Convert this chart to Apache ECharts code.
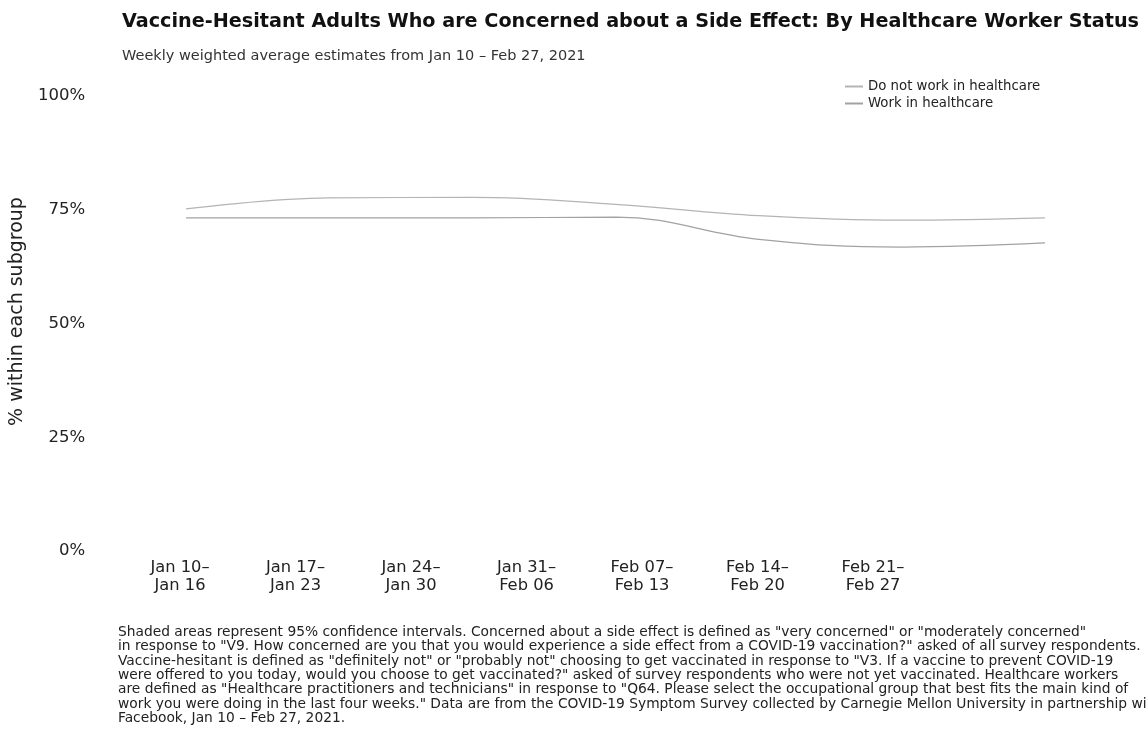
<!DOCTYPE html>
<html>
<head>
<meta charset="utf-8">
<script src="https://cdn.jsdelivr.net/npm/echarts@6/dist/echarts.min.js"></script>
<style>html,body{margin:0;padding:0;background:#fff}#c{width:1146px;height:743px}</style>
</head>
<body>
<div id="c"></div>
<script>
const weekLabels = ["Jan 10–\nJan 16","Jan 17–\nJan 23","Jan 24–\nJan 30","Jan 31–\nFeb 06","Feb 07–\nFeb 13","Feb 14–\nFeb 20","Feb 21–\nFeb 27"];
const notHealthcare = [75.2, 77.6, 77.7, 76.2, 73.7, 72.7, 73.2];
const healthcare = [73.2, 73.2, 73.2, 73.4, 68.5, 66.8, 67.7];
const yTicks = [0, 25, 50, 75, 100];
const titleText = "Vaccine-Hesitant Adults Who are Concerned about a Side Effect: By Healthcare Worker Status";
const subtitleText = "Weekly weighted average estimates from Jan 10 – Feb 27, 2021";
const footnoteLines = [
 'Shaded areas represent 95% confidence intervals. Concerned about a side effect is defined as "very concerned" or "moderately concerned"',
 'in response to "V9. How concerned are you that you would experience a side effect from a COVID-19 vaccination?" asked of all survey respondents.',
 'Vaccine-hesitant is defined as "definitely not" or "probably not" choosing to get vaccinated in response to "V3. If a vaccine to prevent COVID-19',
 'were offered to you today, would you choose to get vaccinated?" asked of survey respondents who were not yet vaccinated. Healthcare workers',
 'are defined as "Healthcare practitioners and technicians" in response to "Q64. Please select the occupational group that best fits the main kind of',
 'work you were doing in the last four weeks." Data are from the COVID-19 Symptom Survey collected by Carnegie Mellon University in partnership with',
 'Facebook, Jan 10 – Feb 27, 2021.'
];
const FONT = '"DejaVu Sans", sans-serif';
const chart = echarts.init(document.getElementById('c'), null, {renderer:'canvas'});
chart.setOption({
  backgroundColor:'#fff',
  animation:false,
  textStyle:{fontFamily:FONT},
  title:[
    {text:titleText, left:117, top:8, textStyle:{fontFamily:FONT, fontWeight:'bold', fontSize:19.2, color:'#111'}},
    {text:subtitleText, left:117, top:44, textStyle:{fontFamily:FONT, fontWeight:'normal', fontSize:14.5, color:'#333'}}
  ],
  legend:{
    orient:'vertical', left:840, top:75, itemWidth:18, itemHeight:2, itemGap:4,
    icon:'rect',
    textStyle:{fontFamily:FONT, fontSize:13.3, color:'#222'},
    data:['Do not work in healthcare','Work in healthcare']
  },
  grid:[
    {left:180, right:273, top:96, bottom:192},
    {left:178, right:101, top:96, bottom:192}
  ],
  xAxis:[
    {gridIndex:0, type:'category', data:weekLabels, boundaryGap:false,
     axisLine:{show:false}, axisTick:{show:false}, splitLine:{show:false},
     axisLabel:{fontFamily:FONT, fontSize:16.3, color:'#222', margin:8, lineHeight:18, interval:0}},
    {gridIndex:1, type:'category', data:weekLabels, boundaryGap:false, show:false}
  ],
  yAxis:[
    {gridIndex:0, type:'value', min:0, max:100, show:false},
    {gridIndex:1, type:'value', min:0, max:100, interval:25, offset:90,
     axisLine:{show:false}, axisTick:{show:false}, splitLine:{show:false},
     axisLabel:{fontFamily:FONT, fontSize:16.5, color:'#222', margin:11, formatter:v=>yTicks.includes(v)?v+'%':''},
     name:'% within each subgroup', nameLocation:'middle', nameRotate:90, nameGap:55,
     nameTextStyle:{fontFamily:FONT, fontSize:19, color:'#222', padding:[0,0,0,24]}}
  ],
  series:[
    {name:'Do not work in healthcare', type:'line', xAxisIndex:1, yAxisIndex:1, data:notHealthcare,
     smooth:0.4, showSymbol:false, symbol:'none', lineStyle:{width:1.2, color:'#b4b4b4'}, itemStyle:{color:'#b4b4b4'}},
    {name:'Work in healthcare', type:'line', xAxisIndex:1, yAxisIndex:1, data:healthcare,
     smooth:0.4, showSymbol:false, symbol:'none', lineStyle:{width:1.2, color:'#a2a2a2'}, itemStyle:{color:'#a2a2a2'}}
  ],
  graphic:[
    {type:'text', left:118, top:625, style:{text:footnoteLines.join('\n'), font:'13.8px '+FONT, lineHeight:14.4, fill:'#222'}}
  ]
});
</script>
</body>
</html>
